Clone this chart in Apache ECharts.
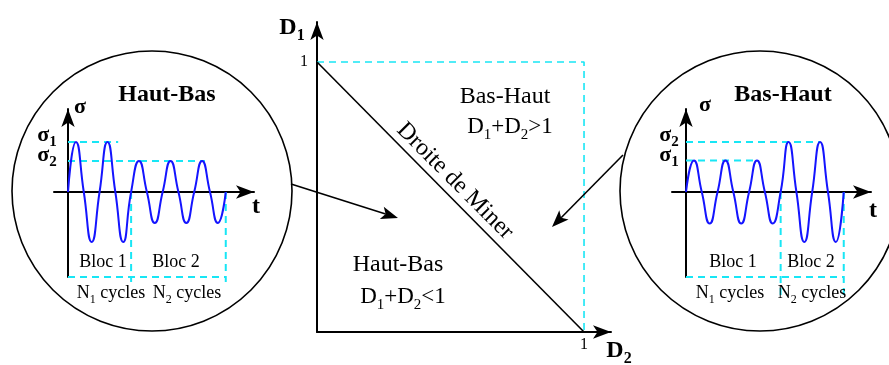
<!DOCTYPE html>
<html>
<head>
<meta charset="utf-8">
<script src="https://cdn.jsdelivr.net/npm/echarts@6/dist/echarts.min.js"></script>
<style>
  html, body { margin: 0; padding: 0; background: #fff; }
  #chart { width: 889px; height: 365px; }
</style>
</head>
<body>
<div id="chart"></div>
<script>
// time in cycles, stress scaled so the big amplitude is 1
var hautBasT = [0, 0.25, 0.5, 0.75, 1, 1.25, 1.5, 1.75, 2, 2.25, 2.5, 2.75, 3, 3.25, 3.5, 3.75, 4, 4.25, 4.5, 4.75, 5];
var hautBasSigma = [0, 1, 0, -1, 0, 1, 0, -1, 0, 0.62, 0, -0.62, 0, 0.62, 0, -0.62, 0, 0.62, 0, -0.62, 0];
var basHautT = [0, 0.25, 0.5, 0.75, 1, 1.25, 1.5, 1.75, 2, 2.25, 2.5, 2.75, 3, 3.25, 3.5, 3.75, 4, 4.25, 4.5, 4.75, 5];
var basHautSigma = [0, 0.63, 0, -0.63, 0, 0.63, 0, -0.63, 0, 0.63, 0, -0.63, 0, 1, 0, -1, 0, 1, 0, -1, 0];

// cyan guide segments [x1, y1, x2, y2]
var hautBasGuides = [[0, 1, 1.59, 1], [0, 0.62, 4.34, 0.62], [2, 0, 2, -1.8], [5, 0, 5, -1.8], [0, -1.7, 5, -1.7]];
var basHautGuides = [[0, 1, 4.25, 1], [0, 0.63, 2.28, 0.63], [3, 0, 3, -2.1], [5, 0, 5, -2.1], [0, -1.7, 5, -1.7]];

// damage plane
var minerD2 = [0, 1];
var minerD1 = [1, 0];
var limitD2 = [0, 1, 1];
var limitD1 = [1, 1, 0];

var FONT = 'Liberation Serif';
var CYAN = '#18e6f5';
var BLUE = '#1414ff';

function zip(a, b) {
    return a.map(function (v, i) { return [v, b[i]]; });
}

function guideSeries(segs, idx) {
    return segs.map(function (s) {
        return {
            type: 'line',
            xAxisIndex: idx,
            yAxisIndex: idx,
            data: [[s[0], s[1]], [s[2], s[3]]],
            showSymbol: false,
            clip: false,
            silent: true,
            z: 1,
            lineStyle: { color: CYAN, width: 2, type: [7, 5] }
        };
    });
}

function txt(x, y, text, size, bold, rot) {
    return {
        type: 'text',
        x: x,
        y: y,
        rotation: rot || 0,
        z: 10,
        style: {
            text: text,
            fill: '#000',
            fontFamily: FONT,
            fontSize: size,
            fontWeight: bold ? 'bold' : 'normal',
            align: 'center',
            verticalAlign: 'middle',
            textAlign: 'center',
            textVerticalAlign: 'middle'
        }
    };
}

// text with subscripts, written as {m|D}{s|1}
function subTxt(x, y, text, size, bold) {
    var w = bold ? 'bold' : 'normal';
    var o = txt(x, y, text, size, bold);
    o.style.rich = {
        m: { fontFamily: FONT, fontSize: size, fontWeight: w, lineHeight: size + 4, verticalAlign: 'top', fill: '#000' },
        s: { fontFamily: FONT, fontSize: Math.round(size * 0.66), fontWeight: w, lineHeight: 10, verticalAlign: 'bottom', fill: '#000' }
    };
    return o;
}

function arrow(x1, y1, x2, y2) {
    var a = Math.atan2(y2 - y1, x2 - x1);
    var len = 17, hw = 6.5, notch = 4;
    var bx = x2 - len * Math.cos(a), by = y2 - len * Math.sin(a);
    var nx = x2 - (len - notch) * Math.cos(a), ny = y2 - (len - notch) * Math.sin(a);
    var px = -Math.sin(a) * hw, py = Math.cos(a) * hw;
    return [
        { type: 'line', z: 5, shape: { x1: x1, y1: y1, x2: nx, y2: ny }, style: { stroke: '#000', lineWidth: 1.6 } },
        { type: 'polygon', z: 5, shape: { points: [[x2, y2], [bx + px, by + py], [nx, ny], [bx - px, by - py]] }, style: { fill: '#000' } }
    ];
}

var smallAxisLine = { onZero: true, symbol: ['none', 'arrow'], symbolSize: [10, 18], lineStyle: { color: '#000', width: 2 } };

function smallX(idx, max) {
    return { type: 'value', gridIndex: idx, min: -0.444, max: max, axisLine: smallAxisLine,
        axisTick: { show: false }, axisLabel: { show: false }, splitLine: { show: false } };
}
function smallY(idx) {
    return { type: 'value', gridIndex: idx, min: -1.7, max: 1.66, axisLine: smallAxisLine,
        axisTick: { show: false }, axisLabel: { show: false }, splitLine: { show: false } };
}

var mainAxisLabel = {
    fontFamily: FONT, fontSize: 16, color: '#000',
    formatter: function (v) { return v === 1 ? '1' : ''; }
};

var chart = echarts.init(document.getElementById('chart'));

var graphics = [
    { type: 'circle', z: 0, shape: { cx: 152, cy: 191, r: 140 }, style: { fill: 'none', stroke: '#000', lineWidth: 1.6 } },
    { type: 'circle', z: 0, shape: { cx: 760, cy: 191, r: 140 }, style: { fill: 'none', stroke: '#000', lineWidth: 1.6 } },

    // left circle
    txt(167, 95, 'Haut-Bas', 24, true),
    txt(80, 107, 'σ', 22, true),
    txt(256, 207, 't', 24, true),
    subTxt(47, 137, '{m|σ}{s|1}', 22, true),
    subTxt(47, 157, '{m|σ}{s|2}', 22, true),
    txt(103, 262, 'Bloc 1', 18),
    txt(176, 262, 'Bloc 2', 18),
    subTxt(111, 295, '{m|N}{s|1}{m| cycles}', 18),
    subTxt(187, 295, '{m|N}{s|2}{m| cycles}', 18),

    // right circle
    txt(783, 95, 'Bas-Haut', 24, true),
    txt(705, 105, 'σ', 22, true),
    txt(873, 211, 't', 24, true),
    subTxt(669, 137, '{m|σ}{s|2}', 22, true),
    subTxt(669, 157, '{m|σ}{s|1}', 22, true),
    txt(733, 262, 'Bloc 1', 18),
    txt(811, 262, 'Bloc 2', 18),
    subTxt(730, 295, '{m|N}{s|1}{m| cycles}', 18),
    subTxt(812, 295, '{m|N}{s|2}{m| cycles}', 18),

    // damage plane
    subTxt(292, 30, '{m|D}{s|1}', 24, true),
    subTxt(619, 353, '{m|D}{s|2}', 24, true),
    txt(505, 97, 'Bas-Haut', 24),
    subTxt(510, 129, '{m|D}{s|1}{m|+D}{s|2}{m|>1}', 23),
    txt(398, 265, 'Haut-Bas', 24),
    subTxt(403, 299, '{m|D}{s|1}{m|+D}{s|2}{m|<1}', 23),
    txt(455, 181, 'Droite de Miner', 24, false, -Math.PI / 4)
].concat(arrow(291, 184, 398, 218), arrow(623, 155, 552, 227));

chart.setOption({
    animation: false,
    backgroundColor: '#fff',
    grid: [
        { left: 317, top: 22, width: 294, height: 310 },
        { left: 54, top: 109, width: 200, height: 168 },
        { left: 672, top: 109, width: 199, height: 168 }
    ],
    xAxis: [
        {
            type: 'value', gridIndex: 0, min: 0, max: 1.101, interval: 1,
            axisLine: { symbol: ['none', 'arrow'], symbolSize: [10, 18], lineStyle: { color: '#000', width: 2 } },
            axisTick: { show: false },
            axisLabel: Object.assign({ margin: 5 }, mainAxisLabel),
            splitLine: { show: false }
        },
        smallX(1, 5.895),
        smallX(2, 5.864)
    ],
    yAxis: [
        {
            type: 'value', gridIndex: 0, min: 0, max: 1.148, interval: 1,
            axisLine: { symbol: ['none', 'arrow'], symbolSize: [10, 18], lineStyle: { color: '#000', width: 2 } },
            axisTick: { show: false },
            axisLabel: Object.assign({ margin: 9 }, mainAxisLabel),
            splitLine: { show: false }
        },
        smallY(1),
        smallY(2)
    ],
    series: [
        {
            type: 'line', xAxisIndex: 0, yAxisIndex: 0,
            data: zip(limitD2, limitD1), showSymbol: false, z: 1,
            lineStyle: { color: CYAN, width: 1.6, type: [7, 5] }
        },
        {
            type: 'line', xAxisIndex: 0, yAxisIndex: 0,
            data: zip(minerD2, minerD1), showSymbol: false, z: 3,
            lineStyle: { color: '#000', width: 1.6 }
        },
        {
            type: 'line', xAxisIndex: 1, yAxisIndex: 1,
            data: zip(hautBasT, hautBasSigma), showSymbol: false, smooth: 0.55, z: 3,
            lineStyle: { color: BLUE, width: 2 }
        },
        {
            type: 'line', xAxisIndex: 2, yAxisIndex: 2,
            data: zip(basHautT, basHautSigma), showSymbol: false, smooth: 0.55, z: 3,
            lineStyle: { color: BLUE, width: 2 }
        }
    ].concat(guideSeries(hautBasGuides, 1), guideSeries(basHautGuides, 2)),
    graphic: graphics
});
</script>
</body>
</html>
